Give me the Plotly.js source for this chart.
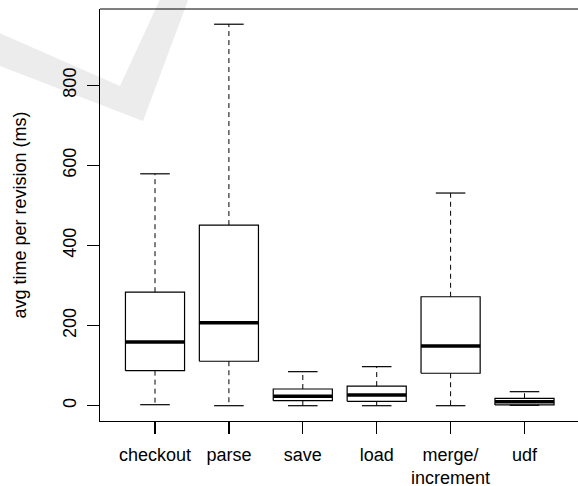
<!DOCTYPE html>
<html>
<head>
<meta charset="utf-8">
<script src="https://cdn.plot.ly/plotly-3.0.1.min.js"></script>
<style>html,body{margin:0;padding:0;background:#fff;overflow:hidden;}#chart{width:578px;height:486px;}</style>
</head>
<body>
<div id="chart"></div>
<script>
// ---- data ----
var categories = ["checkout", "parse", "save", "load", "merge/<br>increment", "udf"];
var lowerWhisker = [2.5, 0, 0, 0, 0, 1];
var q1Values = [87.5, 111, 12.5, 11, 81, 2];
var medianValues = [159, 207, 23.5, 26.7, 149, 10];
var q3Values = [283.5, 451, 41.7, 49, 272, 18.5];
var upperWhisker = [579, 952.5, 85, 97.5, 531, 35];
var yTickValues = [0, 200, 400, 600, 800];
var yTitle = "avg time per revision (ms)";

// ---- build traces ----
var positions = categories.map(function (c, i) { return i + 1; });
var boxHalf = 0.4, capHalf = 0.2;
var boxX = [], boxY = [], medX = [], medY = [], whX = [], whY = [], capX = [], capY = [];
positions.forEach(function (p, i) {
  boxX.push(p - boxHalf, p + boxHalf, p + boxHalf, p - boxHalf, p - boxHalf, null);
  boxY.push(q1Values[i], q1Values[i], q3Values[i], q3Values[i], q1Values[i], null);
  medX.push(p - boxHalf, p + boxHalf, null);
  medY.push(medianValues[i], medianValues[i], null);
  whX.push(p, p, null, p, p, null);
  whY.push(q3Values[i], upperWhisker[i], null, q1Values[i], lowerWhisker[i], null);
  capX.push(p - capHalf, p + capHalf, null, p - capHalf, p + capHalf, null);
  capY.push(upperWhisker[i], upperWhisker[i], null, lowerWhisker[i], lowerWhisker[i], null);
});

var traces = [
  {x: whX, y: whY, mode: "lines", line: {color: "#000", width: 1, dash: "5px,4px"}, hoverinfo: "skip"},
  {x: capX, y: capY, mode: "lines", line: {color: "#000", width: 1.2}, hoverinfo: "skip"},
  {x: boxX, y: boxY, mode: "lines", line: {color: "#000", width: 1.2}, hoverinfo: "skip"},
  {x: medX, y: medY, mode: "lines", line: {color: "#000", width: 3.6}, hoverinfo: "skip"}
];

// decorative watermark (pixel outline converted to paper coords)
var plotW = 478, plotH = 412;
function px(x) { return (x - 100) / plotW; }
function py(y) { return (421 - y) / plotH; }
var wm = [[-5, 31], [120, 86], [162, -5], [190, -5], [143, 121], [-5, 64]];
var path = wm.map(function (pt, i) { return (i ? "L" : "M") + px(pt[0]) + "," + py(pt[1]); }).join(" ") + " Z";

var font = {family: "Liberation Sans, Arial, sans-serif", size: 18, color: "#000"};
var layout = {
  width: 578, height: 486,
  margin: {l: 100, r: 0, t: 9, b: 65, pad: 0},
  paper_bgcolor: "#fff", plot_bgcolor: "rgba(0,0,0,0)",
  showlegend: false,
  font: font,
  shapes: [
    {type: "path", xref: "paper", yref: "paper", path: path, fillcolor: "#ececec", line: {width: 0}, layer: "below"},
    {type: "rect", xref: "paper", yref: "paper", x0: 1 - 4 / plotW, x1: 1.03, y0: 1.6 / plotH, y1: 1 - 1.6 / plotH,
     fillcolor: "#fff", line: {width: 0}, layer: "above"},
    {type: "line", xref: "paper", yref: "paper", x0: 0, x1: 1.01, y0: 1, y1: 1, line: {color: "#000", width: 1.2}}
  ],
  xaxis: {
    range: [0.2557, 6.724], tickmode: "array", tickvals: positions, ticktext: categories,
    showgrid: false, zeroline: false, showline: true, mirror: false, linecolor: "#000", linewidth: 1.2,
    ticks: "outside", ticklen: 12, tickcolor: "#000", tickwidth: 1.2, tickfont: font,
    ticklabelstandoff: 5
  },
  yaxis: {
    range: [-38.2, 990.5], tickmode: "array", tickvals: yTickValues,
    showgrid: false, zeroline: false, showline: true, mirror: false, linecolor: "#000", linewidth: 1.2,
    ticks: "outside", ticklen: 12, tickcolor: "#000", tickwidth: 1.2, tickfont: font, tickangle: -90,
    ticklabelstandoff: 4,
    title: {text: yTitle, font: font, standoff: 28}
  }
};
Plotly.newPlot("chart", traces, layout, {staticPlot: true, displayModeBar: false});
</script>
</body>
</html>
